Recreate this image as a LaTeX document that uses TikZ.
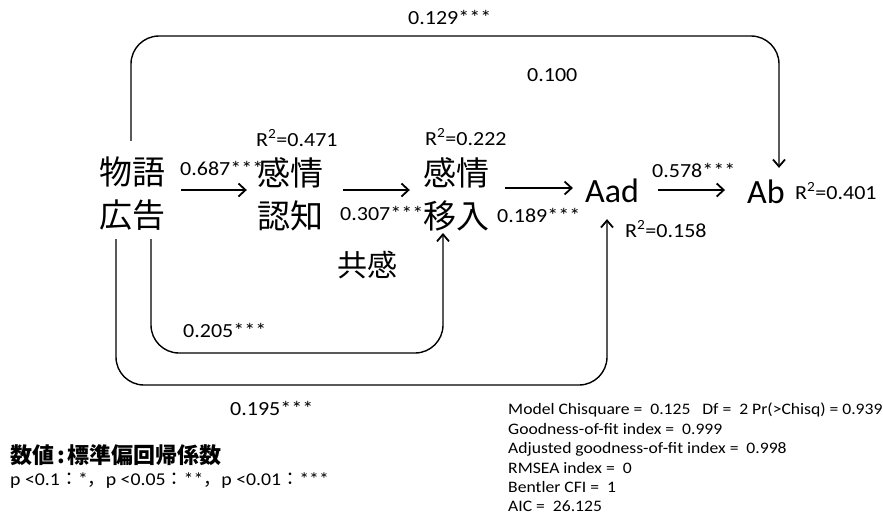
\documentclass[tikz,border=0pt]{standalone}
\usepackage{fontspec}
\setmainfont{Carlito}
\newfontfamily\wide[FakeStretch=1.1]{Carlito}
\newfontfamily\jp{Noto Sans CJK JP}
\usetikzlibrary{arrows.meta,calc}
\begin{document}
\begin{tikzpicture}[x=1pt,y=-1pt,
 arr/.style={line width=1.8pt, -{Straight Barb[length=7pt,width=13pt,line width=1.8pt]}},
 conn/.style={line width=1.4pt, rounded corners=28pt, -{Straight Barb[length=7pt,width=12pt,line width=1.8pt]}},
 big/.style={font=\jp\fontsize{33}{43}\selectfont, align=center, inner sep=0pt},
 eng/.style={font=\fontsize{34}{40}\selectfont, inner sep=0pt},
 lab/.style={font=\wide\fontsize{20}{24}\selectfont, inner sep=0pt, anchor=west},
 stat/.style={font=\wide\fontsize{16}{19.4}\selectfont, align=left, inner sep=0pt, anchor=north west},
]
\useasboundingbox[fill=white] (0,0) rectangle (883,523);
% main nodes
\node[big] (ad) at (132,194) {物語\\広告};
\node[big] (cog) at (290,194) {感情\\認知};
\node[big] (emp) at (456,194) {感情\\移入};
\node[eng] (aad) at (612,191) {Aad};
\node[eng] (ab) at (766,192) {Ab};
\node[big, font=\jp\fontsize{30}{36}\selectfont] (kyo) at (367,265) {共感};
\coordinate (lvl) at (0,190);
% straight arrows
\draw[arr] ($(ad.east |- lvl)+(16,0)$) -- ($(cog.west |- lvl)+(-10,0)$);
\draw[arr] ($(cog.east |- lvl)+(20,0)$) -- ($(emp.west |- lvl)+(-13,0)$);
\draw[arr] ($(emp.east |- lvl)+(16,-2)$) -- ($(aad.west |- lvl)+(-12,-2)$);
\draw[arr] ($(aad.east |- lvl)+(19,0)$) -- ($(ab.west |- lvl)+(-22,0)$);
% curved connectors
\draw[conn] ([shift={(-1,-16)}]ad.north) |- (450,36) -| ([shift={(13,-12)}]ab.north);
\draw[conn] ([shift={(19,8)}]ad.south) |- (300,353) -| ([shift={(-13,2)}]emp.south);
\draw[conn] ([shift={(-16,8)}]ad.south) |- (360,385) -| ([shift={(-5,16)}]aad.south);
% labels
\node[lab] (l129) at (408,17) {0.129***};
\node[lab] (l100) at (527,75) {0.100};
\node[lab] (r471) at (256,138) {R\textsuperscript{2}=0.471};
\node[lab] (l687) at (180,168) {0.687***};
\node[lab] (l307) at (340,213) {0.307***};
\node[lab] (r222) at (425,137) {R\textsuperscript{2}=0.222};
\node[lab] (l189) at (497,215) {0.189***};
\node[lab] (l578) at (652,170) {0.578***};
\node[lab] (r401) at (795,191) {R\textsuperscript{2}=0.401};
\node[lab] (r158) at (625,229) {R\textsuperscript{2}=0.158};
\node[lab] (l205) at (183,330) {0.205***};
\node[lab] (l195) at (230,408) {0.195***};
% legend
\node[inner sep=0pt, anchor=west, font=\jp\bfseries\fontsize{22}{24}\selectfont] (leg1) at (10,455) {数値\kern3pt:\kern3pt標準偏回帰係数};
\node[inner sep=0pt, anchor=west, font=\wide\fontsize{18}{20}\selectfont] (leg2) at (10,481) {p <0.1{\jp：}*{\jp，}p <0.05{\jp：}**{\jp，}p <0.01{\jp：}***};
\node[stat] (stats) at (508,403) {Model Chisquare = \ 0.125 \ \ Df = \ 2 Pr(>Chisq) = 0.939\\
Goodness-of-fit index = \ 0.999\\
Adjusted goodness-of-fit index = \ 0.998\\
RMSEA index = \ 0\\
Bentler CFI = \ 1\\
AIC = \ 26.125};
\end{tikzpicture}
\end{document}
